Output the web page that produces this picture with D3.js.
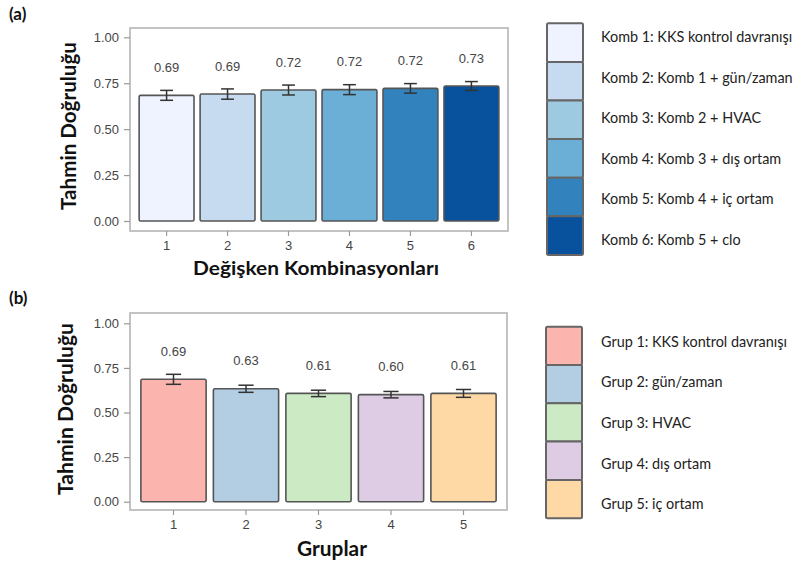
<!DOCTYPE html>
<html><head><meta charset="utf-8">
<script src="https://cdn.jsdelivr.net/npm/d3@7"></script>
<style>body{margin:0;background:#fff}svg{display:block}</style>
</head><body>
<script>
// ---- data ----
const combCats = ["1","2","3","4","5","6"];
const combValues = [0.684, 0.691, 0.713, 0.715, 0.722, 0.735];
const combErr = [0.027, 0.028, 0.027, 0.027, 0.026, 0.024];
const combLabels = ["0.69","0.69","0.72","0.72","0.72","0.73"];
const combColors = ["#eff3ff","#c6dbef","#9ecae1","#6baed6","#3182bd","#08519c"];
const combLegend = ["Komb 1: KKS kontrol davranışı","Komb 2: Komb 1 + gün/zaman","Komb 3: Komb 2 + HVAC","Komb 4: Komb 3 + dış ortam","Komb 5: Komb 4 + iç ortam","Komb 6: Komb 5 + clo"];

const grpCats = ["1","2","3","4","5"];
const grpValues = [0.686, 0.633, 0.607, 0.600, 0.607];
const grpErr = [0.028, 0.020, 0.018, 0.018, 0.022];
const grpLabels = ["0.69","0.63","0.61","0.60","0.61"];
const grpColors = ["#fbb4ae","#b3cde3","#ccebc5","#decbe4","#fed9a6"];
const grpLegend = ["Grup 1: KKS kontrol davranışı","Grup 2: gün/zaman","Grup 3: HVAC","Grup 4: dış ortam","Grup 5: iç ortam"];

const yTicks = [0, 0.25, 0.5, 0.75, 1.0];
const yTickLabels = ["0.00","0.25","0.50","0.75","1.00"];

// ---- drawing ----
const W = 797, H = 566;
const svg = d3.select("body").append("svg").attr("width", W).attr("height", H);

function panel(cfg){
  const g = svg.append("g");
  const x = d3.scaleBand().domain(cfg.cats).range([cfg.x0, cfg.x1]).paddingInner(0.1).paddingOuter(0.15);
  const y = d3.scaleLinear().domain([0,1]).range([cfg.yZero, cfg.yOne]);

  // panel border
  g.append("rect").attr("x", cfg.x0).attr("y", cfg.py0).attr("width", cfg.x1-cfg.x0).attr("height", cfg.py1-cfg.py0)
    .attr("fill","#fff").attr("stroke","#bdbdbd").attr("stroke-width",1.8);

  // y axis
  const ya = g.append("g").attr("transform",`translate(${cfg.x0},0)`)
    .call(d3.axisLeft(y).tickValues(yTicks).tickFormat((d,i)=>yTickLabels[i]).tickSize(6).tickPadding(5));
  ya.select(".domain").remove();
  ya.selectAll("line").attr("stroke","#9a9a9a").attr("stroke-width",1.2);
  ya.selectAll("text").attr("font-family","Liberation Sans, Arial, sans-serif").attr("font-size","13px").attr("fill","#454545");

  // x axis
  const xa = g.append("g").attr("transform",`translate(0,${cfg.py1})`)
    .call(d3.axisBottom(x).tickSize(5).tickPadding(5));
  xa.select(".domain").remove();
  xa.selectAll("line").attr("stroke","#9a9a9a").attr("stroke-width",1.2);
  xa.selectAll("text").attr("font-family","Liberation Sans, Arial, sans-serif").attr("font-size","13px").attr("fill","#454545");

  // bars
  g.selectAll("rect.bar").data(cfg.values).join("rect").attr("class","bar")
    .attr("x",(d,i)=>x(cfg.cats[i])).attr("width",x.bandwidth())
    .attr("y",d=>y(d)).attr("height",d=>y(0)-y(d))
    .attr("rx",1.5)
    .attr("fill",(d,i)=>cfg.colors[i]).attr("stroke","#555").attr("stroke-width",1.6);

  // error bars
  const capW = x.step()*0.21;
  const eb = g.selectAll("g.eb").data(cfg.values).join("g").attr("class","eb")
    .attr("stroke","#333").attr("stroke-width",1.5);
  eb.append("line").attr("x1",(d,i)=>x(cfg.cats[i])+x.bandwidth()/2).attr("x2",(d,i)=>x(cfg.cats[i])+x.bandwidth()/2)
    .attr("y1",(d,i)=>y(d+cfg.err[i])).attr("y2",(d,i)=>y(d-cfg.err[i]));
  eb.append("line").attr("x1",(d,i)=>x(cfg.cats[i])+x.bandwidth()/2-capW/2).attr("x2",(d,i)=>x(cfg.cats[i])+x.bandwidth()/2+capW/2)
    .attr("y1",(d,i)=>y(d+cfg.err[i])).attr("y2",(d,i)=>y(d+cfg.err[i]));
  eb.append("line").attr("x1",(d,i)=>x(cfg.cats[i])+x.bandwidth()/2-capW/2).attr("x2",(d,i)=>x(cfg.cats[i])+x.bandwidth()/2+capW/2)
    .attr("y1",(d,i)=>y(d-cfg.err[i])).attr("y2",(d,i)=>y(d-cfg.err[i]));

  // value labels
  g.selectAll("text.vl").data(cfg.values).join("text").attr("class","vl")
    .attr("x",(d,i)=>x(cfg.cats[i])+x.bandwidth()/2).attr("y",d=>y(d)-28)
    .attr("dy","0.35em").attr("text-anchor","middle")
    .attr("font-family","Liberation Sans, Arial, sans-serif").attr("font-size","13px").attr("fill","#454545")
    .text((d,i)=>cfg.labels[i]);

  // titles
  g.append("text").attr("transform",`translate(${cfg.yTitleX},${cfg.yTitleY}) rotate(-90)`)
    .attr("text-anchor","middle").attr("font-family","Lato, sans-serif").attr("font-weight","bold")
    .attr("font-size","20px").attr("fill","#111")
    .attr("textLength",cfg.yTitleLen).attr("lengthAdjust","spacingAndGlyphs").text("Tahmin Doğruluğu");
  g.append("text").attr("x",cfg.xTitleX).attr("y",cfg.xTitleY)
    .attr("text-anchor","middle").attr("font-family","Lato, sans-serif").attr("font-weight","bold")
    .attr("font-size",cfg.xTitleSize).attr("fill","#111")
    .attr("textLength",cfg.xTitleLen).attr("lengthAdjust","spacingAndGlyphs").text(cfg.xTitle);
  g.append("text").attr("x",9).attr("y",cfg.tagY).attr("font-family","Lato, sans-serif").attr("font-weight","bold")
    .attr("font-size","17px").attr("fill","#111").text(cfg.tag);

  // legend
  const lg = g.append("g");
  lg.selectAll("rect").data(cfg.legend).join("rect")
    .attr("x",cfg.lgX).attr("y",(d,i)=>cfg.lgY+i*cfg.lgStep).attr("width",36).attr("height",cfg.lgStep)
    .attr("rx",1.5).attr("fill",(d,i)=>cfg.colors[i]).attr("stroke","#666").attr("stroke-width",2);
  lg.selectAll("text").data(cfg.legend).join("text")
    .attr("x",601).attr("y",(d,i)=>cfg.lgTextY+i*40.6).attr("dy","0.35em")
    .attr("font-family","Lato, sans-serif").attr("font-size","14.4px").attr("fill","#222").text(d=>d);
}

panel({cats:combCats, values:combValues, err:combErr, labels:combLabels, colors:combColors, legend:combLegend,
  x0:130, x1:508, py0:28, py1:231, yZero:221, yOne:37.3,
  yTitleX:76, yTitleY:126, yTitleLen:168, xTitleX:316, xTitleY:274.5, xTitleLen:246, xTitleSize:"18.5px", xTitle:"Değişken Kombinasyonları", tag:"(a)", tagY:20,
  lgX:547, lgY:23.3, lgStep:38.6, lgTextY:37});

panel({cats:grpCats, values:grpValues, err:grpErr, labels:grpLabels, colors:grpColors, legend:grpLegend,
  x0:130, x1:507, py0:313, py1:510, yZero:501.7, yOne:323.3,
  yTitleX:73, yTitleY:409, yTitleLen:172, xTitleX:332, xTitleY:556, xTitleLen:70, xTitleSize:"21px", xTitle:"Gruplar", tag:"(b)", tagY:304,
  lgX:546, lgY:326.7, lgStep:38.3, lgTextY:341.7});
</script>
</body></html>
